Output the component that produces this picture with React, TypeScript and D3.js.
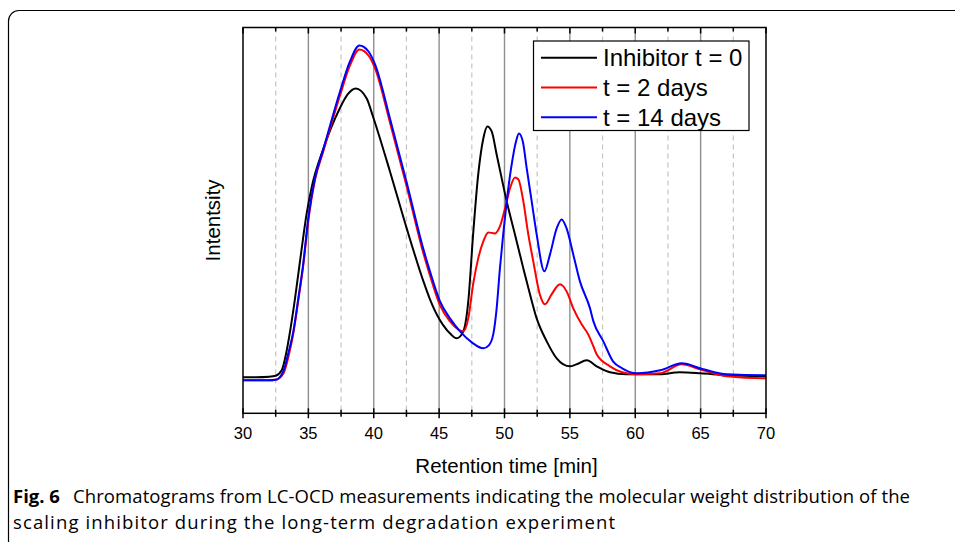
import React from "react";
import * as d3 from "d3";

// Retention time [min], intensity (arbitrary units)
const inhibitorT0: [number, number][] = [
  [30, 36], [31, 36], [32, 36.5], [32.5, 37.5], [32.96, 43], [33.3, 60], [33.6, 82], [33.98, 115],
  [34.49, 165], [34.87, 200], [35.25, 226], [36.1, 263], [37.4, 305], [38.0, 319], [38.62, 325],
  [39.46, 315], [39.94, 297], [41.24, 242], [42.52, 185], [43.8, 132], [44.3, 114], [45.07, 93],
  [45.32, 88], [45.9, 79], [46.34, 75], [46.85, 82], [47.23, 112], [47.6, 179], [47.99, 239],
  [48.38, 275], [48.69, 287], [49.02, 282], [49.4, 259], [50.17, 212], [50.8, 179], [51.44, 145],
  [51.95, 119], [52.46, 95], [53.23, 72], [53.99, 55], [55.0, 47], [55.5, 49], [56.3, 53],
  [57.05, 47], [58.07, 41], [59.3, 39], [61.9, 39], [63.4, 41], [65.0, 40], [67.0, 38], [70, 37],
];

const days2: [number, number][] = [
  [30, 33], [31, 33], [32, 33], [32.5, 33.5], [33.1, 40], [33.5, 58], [33.85, 80], [34.23, 113],
  [34.6, 147], [35.0, 193], [35.5, 233], [36.14, 262], [37.42, 318], [38.18, 348], [38.9, 364],
  [39.6, 358], [40.1, 345], [41.24, 291], [42.5, 228], [43.8, 160], [44.3, 138], [45.07, 108],
  [45.83, 92], [46.85, 82], [47.23, 95], [47.6, 129], [47.99, 155], [48.38, 172], [48.76, 181],
  [49.27, 180], [49.65, 187], [50.04, 205], [50.42, 225], [50.8, 236], [51.06, 234], [51.44, 212],
  [51.82, 179], [52.2, 152], [52.7, 119], [53.1, 109], [53.6, 119], [54.24, 129], [54.75, 122],
  [55.26, 105], [55.9, 89], [56.4, 79], [56.8, 67], [57.05, 59], [58.07, 47], [59.0, 41],
  [60.1, 39], [61.9, 40], [63.55, 49], [64.95, 44], [67.0, 37], [69.8, 35], [70, 35],
];

const days14: [number, number][] = [
  [30, 33], [31, 33], [32, 33], [32.5, 33.5], [33.08, 42], [33.5, 62], [33.85, 82], [34.23, 115],
  [34.6, 149], [34.99, 195], [35.5, 235], [36.14, 264], [37.42, 322], [38.18, 352], [38.9, 368],
  [39.6, 362], [40.1, 349], [41.24, 295], [42.5, 232], [43.8, 164], [44.3, 142], [45.07, 112],
  [45.83, 95], [46.6, 82], [47.5, 71], [48.38, 65], [48.8, 68], [49.14, 79], [49.4, 105], [49.65, 145],
  [49.9, 179], [50.17, 212], [50.55, 249], [50.88, 272], [51.1, 280], [51.4, 272], [51.7, 245],
  [52.08, 212], [52.46, 179], [53.05, 142], [53.48, 159], [53.99, 185], [54.37, 194], [54.75, 185],
  [55.26, 159], [55.77, 132], [56.54, 105], [56.8, 92], [57.56, 72], [58.3, 52], [59.0, 45],
  [60.1, 40], [61.9, 43], [63.55, 50], [65.2, 44], [67.0, 39], [69.8, 38], [70, 38],
];

const seriesNames = ["Inhibitor t = 0", "t = 2 days", "t = 14 days"];
const seriesColors = ["#000000", "#ff0000", "#0000ff"];
const seriesData = [inhibitorT0, days2, days14];

const majorTicks = [30, 35, 40, 45, 50, 55, 60, 65, 70];
const minorTicks = [32.5, 37.5, 42.5, 47.5, 52.5, 57.5, 62.5, 67.5];

const captionBold = "Fig. 6";
const captionLine1 = "Chromatograms from LC-OCD measurements indicating the molecular weight distribution of the";
const captionLine2 = "scaling inhibitor during the long-term degradation experiment";

const W = 955;
const H = 542;
const L = 243;
const R = 766;
const T = 27.5;
const B = 413.3;

export default function App() {
  const x = d3.scaleLinear().domain([30, 70]).range([L, R]);
  const y = d3.scaleLinear().domain([0, 386]).range([B, T]);
  const line = d3
    .line<[number, number]>()
    .x((d) => x(d[0]))
    .y((d) => y(d[1]))
    .curve(d3.curveMonotoneX);

  const font = "'Liberation Sans', Arial, sans-serif";
  const capFont = "'Open Sans', 'Noto Sans', sans-serif";

  return (
    <svg
      width={W}
      height={H}
      style={{ position: "absolute", left: 0, top: 0, background: "#fff" }}
    >
      <rect x={0} y={0} width={W} height={H} fill="#fff" />
      {/* outer rounded frame */}
      <path d={`M ${W + 2} 10.5 H 19 A 10.5 10.5 0 0 0 8.5 21 V ${H + 2}`} fill="none" stroke="#000" strokeWidth={1.2} />

      <defs>
        <clipPath id="plotclip">
          <rect x={L} y={T} width={R - L} height={B - T} />
        </clipPath>
      </defs>

      {/* grid */}
      {minorTicks.map((t) => (
        <line key={"gm" + t} x1={x(t)} x2={x(t)} y1={T} y2={B} stroke="#c4c4c4" strokeWidth={1.2} strokeDasharray="5,4" />
      ))}
      {majorTicks.slice(1, -1).map((t) => (
        <line key={"gM" + t} x1={x(t)} x2={x(t)} y1={T} y2={B} stroke="#8f8f8f" strokeWidth={1.4} />
      ))}

      {/* curves */}
      <g clipPath="url(#plotclip)">
        {seriesData.map((d, i) => (
          <path key={i} d={line(d) || ""} fill="none" stroke={seriesColors[i]} strokeWidth={2} strokeLinejoin="round" />
        ))}
      </g>

      {/* frame */}
      <rect x={L} y={T} width={R - L} height={B - T} fill="none" stroke="#000" strokeWidth={1.5} />

      {/* bottom ticks */}
      {majorTicks.map((t) => (
        <line key={"bt" + t} x1={x(t)} x2={x(t)} y1={B - 5} y2={B + 5} stroke="#000" strokeWidth={1.5} />
      ))}
      {minorTicks.map((t) => (
        <line key={"bm" + t} x1={x(t)} x2={x(t)} y1={B - 3.5} y2={B + 3.5} stroke="#000" strokeWidth={1.5} />
      ))}
      {/* top ticks */}
      {majorTicks.map((t) => (
        <line key={"tt" + t} x1={x(t)} x2={x(t)} y1={T} y2={T + 6} stroke="#000" strokeWidth={1.5} />
      ))}
      {minorTicks.map((t) => (
        <line key={"tm" + t} x1={x(t)} x2={x(t)} y1={T} y2={T + 4} stroke="#000" strokeWidth={1.5} />
      ))}

      {/* tick labels */}
      {majorTicks.map((t) => (
        <text key={"tl" + t} x={x(t)} y={438.5} textAnchor="middle" fontFamily={font} fontSize={16.5} fill="#000">
          {t}
        </text>
      ))}

      {/* axis titles */}
      <text x={(L + R) / 2 + 2} y={473} textAnchor="middle" fontFamily={font} fontSize={20.5} fill="#000">
        Retention time [min]
      </text>
      <text
        transform={`translate(219.5, ${(T + B) / 2}) rotate(-90)`}
        textAnchor="middle"
        fontFamily={font}
        fontSize={20.5}
        fill="#000"
      >
        Intentsity
      </text>

      {/* legend */}
      <rect x={533.5} y={41} width={215.5} height={89.5} fill="#fff" stroke="#000" strokeWidth={1.2} />
      {seriesNames.map((n, i) => (
        <g key={n}>
          <line x1={541} x2={597} y1={57.7 + i * 29.8} y2={57.7 + i * 29.8} stroke={seriesColors[i]} strokeWidth={2} />
          <text x={603} y={66 + i * 29.8} fontFamily={font} fontSize={24} fill="#000">
            {n}
          </text>
        </g>
      ))}

      {/* caption */}
      <text x={13} y={503} fontFamily={capFont} fontSize={18.5} fontWeight="bold" fill="#000">
        {captionBold}
      </text>
      <text x={73} y={503} fontFamily={capFont} fontSize={18.5} fill="#000" textLength={837} lengthAdjust="spacing">
        {captionLine1}
      </text>
      <text x={13} y={529} fontFamily={capFont} fontSize={18.5} fill="#000" textLength={602} lengthAdjust="spacing">
        {captionLine2}
      </text>
    </svg>
  );
}
